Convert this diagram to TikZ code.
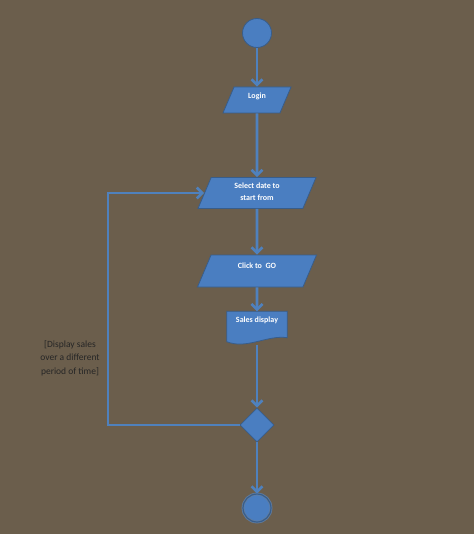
\documentclass[tikz,border=0pt]{standalone}
\usepackage{fontspec}
\setmainfont{Carlito}
\usetikzlibrary{shapes.geometric,arrows.meta}
\definecolor{bg}{RGB}{107,94,76}
\definecolor{bx}{RGB}{74,126,193}
\definecolor{bd}{RGB}{56,93,138}
\definecolor{ln}{RGB}{79,129,189}
\tikzset{st/.style = {circle, fill=bx, draw=bd, thick, minimum size=29pt, inner sep=0pt},
           io/.style = {trapezium, trapezium left angle=67, trapezium right angle=113,
                        trapezium stretches body, fill=bx, draw=bd, thick, inner xsep=0pt,
                        text height=6pt, text depth=2pt,
                        text=white, align=center, font=\bfseries\fontsize{8}{12}\selectfont},
           doc/.style = {rectangle, minimum width=60pt, inner ysep=4pt, text height=7pt,
                        text depth=18pt, text=white, font=\bfseries\fontsize{8}{12}\selectfont},
           ch/.style = {diamond, fill=bx, draw=bd, thick, minimum size=34pt, inner sep=0pt},
           en/.style = {circle, fill=bx, draw=bd!80, double=bd, double distance=1.2pt,
                        line width=0.8pt, minimum size=28pt, inner sep=0pt},
           ln/.style = {draw=ln, line width=2.6pt}}

\begin{document}
\begin{tikzpicture}[x=1pt, y=-1pt, >={Straight Barb[length=5.5pt,width=11pt]}]
    \fill[bg] (0,0) rectangle (474,534);
    \node[st] (s) at (257,33) {};
    \node[io, inner ysep=6pt, text depth=8pt, minimum width=68pt] (login) at (257,100) {Login};
    \node[io, inner ysep=5.5pt, text height=18pt, minimum width=118pt] (sel) at (257,193) {Select date to\\start from};
    \node[io, inner ysep=7pt, text depth=12pt, minimum width=119pt] (go) at (257,271) {Click to\ \ GO};
    \node[doc] (sales) at (257,328) {Sales display};
    \filldraw[fill=bx, draw=bd, thick] (sales.north west) -- (sales.north east)
        -- ([yshift=7pt]sales.south east)
        .. controls ([xshift=-20pt,yshift=10pt]sales.south east) and ([xshift=20pt,yshift=-5pt]sales.south west)
        .. ([yshift=3pt]sales.south west) -- cycle;
    \node[doc] at (sales) {Sales display};
    \node[ch] (dec) at (257,425) {};
    \node[en] (t) at (257,508) {};
    \node[align=center, text=black!85, font=\fontsize{9.5}{13.5}\selectfont] (lbl) at (70,358)
        {[Display sales\\over a different\\period of time]};
    \coordinate (c) at (108,425);
    \draw[ln, ->] (s) -- (login);
    \draw[ln, ->] (login) -- (sel);
    \draw[ln, ->] (sel) -- (go);
    \draw[ln, ->] (go) -- (sales);
    \draw[ln, ->] (sales) -- (dec);
    \draw[ln, ->] (dec) -- (t);
    \draw[ln, ->] (dec) -- (c) |- (sel);
\end{tikzpicture}
\end{document}
